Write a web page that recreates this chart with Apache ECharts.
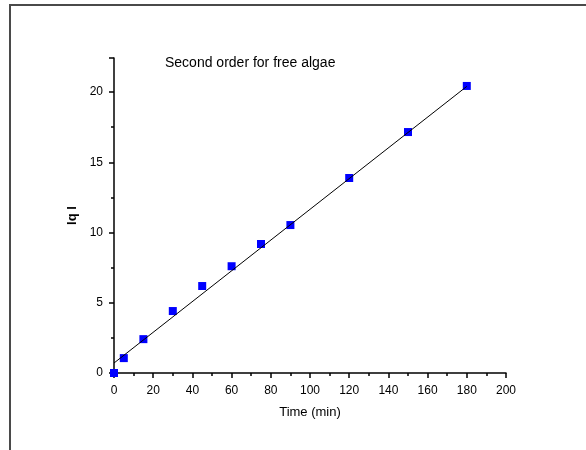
<!DOCTYPE html>
<html>
<head>
<meta charset="utf-8">
<script src="https://cdn.jsdelivr.net/npm/echarts@6/dist/echarts.min.js"></script>
<style>
html,body{margin:0;padding:0;background:#fff;}
#chart{width:586px;height:450px;}
</style>
</head>
<body>
<div id="chart"></div>
<script>
// Data
const timeMin = [0, 5, 15, 30, 45, 60, 75, 90, 120, 150, 180];
const qValues = [0, 1.06, 2.41, 4.41, 6.19, 7.6, 9.18, 10.53, 13.88, 17.15, 20.43];
const fitTime = [0, 180];
const fitValues = [0.71, 20.4];
const xTicks = [0, 20, 40, 60, 80, 100, 120, 140, 160, 180, 200];
const yTicks = [0, 5, 10, 15, 20];
const chartTitle = 'Second order for free algae';
const xTitle = 'Time (min)';
const yTitle = 'lq l';

const FONT = 'Liberation Sans, Arial, sans-serif';
const chart = echarts.init(document.getElementById('chart'), null, {renderer: 'canvas'});

const pts = timeMin.map((t, i) => [t, qValues[i]]);
const fit = fitTime.map((t, i) => [t, fitValues[i]]);

chart.setOption({
  animation: false,
  backgroundColor: '#ffffff',
  graphic: [
    {type: 'rect', shape: {x: 10, y: 5, width: 620, height: 500},
     style: {fill: 'none', stroke: '#4a4a4a', lineWidth: 2}, z: -1},
    {type: 'text', left: 165, top: 56,
     style: {text: chartTitle, font: '14px ' + FONT, fill: '#000'}}
  ],
  grid: {left: 114, right: 80, top: 58, bottom: 77, containLabel: false},
  xAxis: {
    type: 'value', min: xTicks[0], max: xTicks[xTicks.length - 1], interval: xTicks[1] - xTicks[0],
    name: xTitle, nameLocation: 'middle', nameGap: 33,
    nameTextStyle: {fontFamily: FONT, fontSize: 13, color: '#000'},
    axisLine: {show: true, onZero: false, lineStyle: {color: '#000', width: 1.5}},
    axisTick: {show: true, inside: false, length: 5, lineStyle: {color: '#000', width: 1.5}},
    minorTick: {show: true, splitNumber: 2, length: 3, lineStyle: {color: '#000', width: 1.5}},
    splitLine: {show: false},
    axisLabel: {fontFamily: FONT, fontSize: 12, color: '#000', margin: 12}
  },
  yAxis: {
    type: 'value', min: 0, max: 22.42, interval: yTicks[1] - yTicks[0],
    name: yTitle, nameLocation: 'middle', nameGap: 29, nameRotate: 90,
    nameTextStyle: {fontFamily: FONT, fontSize: 13, fontWeight: 'bold', color: '#000'},
    axisLine: {show: true, onZero: false, lineStyle: {color: '#000', width: 1.5}},
    axisTick: {show: true, inside: false, length: 5, lineStyle: {color: '#000', width: 1.5}},
    minorTick: {show: true, splitNumber: 2, length: 3, lineStyle: {color: '#000', width: 1.5}},
    splitLine: {show: false},
    axisLabel: {fontFamily: FONT, fontSize: 12, color: '#000', margin: 11, showMaxLabel: false}
  },
  series: [
    {type: 'scatter', data: pts, symbol: 'rect', symbolSize: 8,
     itemStyle: {color: '#0000ff', opacity: 1}, z: 2},
    {type: 'line', data: fit, showSymbol: false, symbol: 'none',
     lineStyle: {color: '#000', width: 1}, z: 3}
  ]
});
</script>
</body>
</html>
